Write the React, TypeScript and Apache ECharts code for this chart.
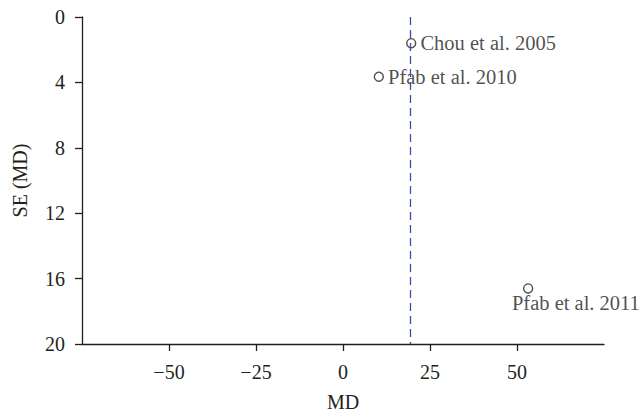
import React, { useEffect, useRef } from "react";
import * as echarts from "echarts";

const studies = ["Chou et al. 2005", "Pfab et al. 2010", "Pfab et al. 2011"];
const mdValues = [19.6, 10.3, 53.2];
const seValues = [1.6, 3.65, 16.6];
const pooledMD = 19.2;
const xTicks = [-50, -25, 0, 25, 50];
const yTicks = [0, 4, 8, 12, 16, 20];

const FONT = "Liberation Serif";

export default function App() {
  const ref = useRef<HTMLDivElement>(null);
  useEffect(() => {
    if (!ref.current) return;
    const chart = echarts.init(ref.current, undefined, { renderer: "svg" });
    const points = studies.map((s, i) => {
      const base: any = { value: [mdValues[i], seValues[i]], name: s };
      if (i === 2) {
        base.label = { position: [-11, 9], align: "left", verticalAlign: "top" };
      }
      return base;
    });
    chart.setOption({
      animation: false,
      backgroundColor: "#ffffff",
      textStyle: { fontFamily: FONT },
      grid: { left: 82, right: 39, top: 17, bottom: 67 },
      xAxis: {
        type: "value",
        min: -75,
        max: 75,
        interval: 25,
        name: "MD",
        nameLocation: "middle",
        nameGap: 48,
        nameTextStyle: { fontFamily: FONT, fontSize: 20, color: "#231f20" },
        axisLine: { show: true, onZero: false, lineStyle: { color: "#231f20", width: 1.3 } },
        axisTick: { show: true, length: 7, customValues: xTicks, lineStyle: { color: "#231f20", width: 1.3 } },
        axisLabel: {
          customValues: xTicks,
          margin: 18,
          fontFamily: FONT,
          fontSize: 20,
          color: "#231f20",
          formatter: (v: number) => String(v).replace("-", "\u2212"),
        },
        splitLine: { show: false },
      },
      yAxis: {
        type: "value",
        inverse: true,
        min: 0,
        max: 20,
        interval: 4,
        name: "SE (MD)",
        nameLocation: "middle",
        nameGap: 52,
        nameTextStyle: { fontFamily: FONT, fontSize: 20, color: "#231f20" },
        axisLine: { show: true, onZero: false, lineStyle: { color: "#231f20", width: 1.3 } },
        axisTick: { show: true, length: 7, customValues: yTicks, lineStyle: { color: "#231f20", width: 1.3 } },
        axisLabel: {
          customValues: yTicks,
          margin: 17,
          fontFamily: FONT,
          fontSize: 20,
          color: "#231f20",
        },
        splitLine: { show: false },
      },
      series: [
        {
          type: "scatter",
          data: points,
          symbol: "circle",
          symbolSize: 9,
          itemStyle: { color: "#ffffff", borderColor: "#231f20", borderWidth: 1.4 },
          label: {
            show: true,
            position: "right",
            distance: 4,
            formatter: (p: any) => p.name,
            fontFamily: FONT,
            fontSize: 20.5,
            color: "#231f20",
          },
          markLine: {
            silent: true,
            symbol: "none",
            label: { show: false },
            lineStyle: { color: "#3b4ea3", type: [8, 5], width: 1.3 },
            data: [[{ coord: [pooledMD, 0] }, { coord: [pooledMD, 20] }]],
          },
        },
      ],
    });
    return () => chart.dispose();
  }, []);
  return (
    <div
      ref={ref}
      style={{ position: "fixed", left: 0, top: 0, width: 643, height: 417 }}
    />
  );
}
